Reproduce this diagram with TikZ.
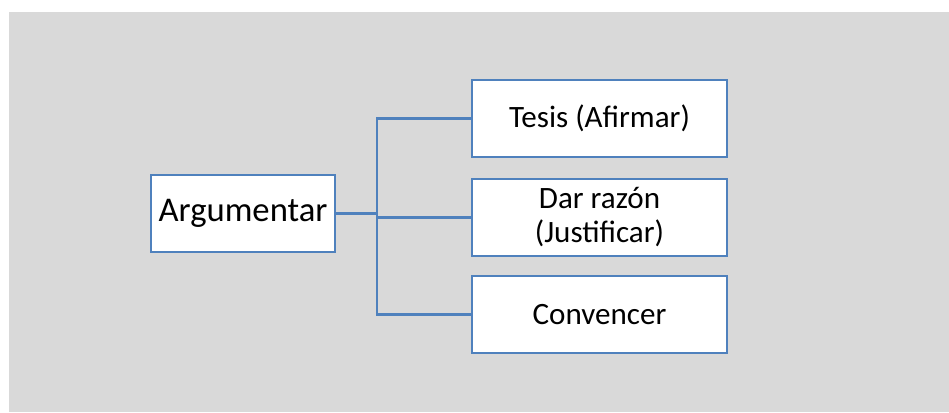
\documentclass[tikz,border=0pt]{standalone}
\usepackage{fontspec}
\setmainfont{Carlito}
\definecolor{panelgrey}{RGB}{217, 217, 217}
\definecolor{boxblue}{RGB}{79, 129, 189}

\begin{document}
\begin{tikzpicture}
  [
    x=0.75pt, y=-0.75pt,
    box/.style={draw=boxblue, line width=1.6pt, fill=white, inner sep=0pt,
                minimum height=57.75pt, align=center,
                font=\fontsize{23.3}{25.5}\selectfont},
    root/.style={box, minimum width=138pt, font=\fontsize{26}{28}\selectfont},
    leaf/.style={box, minimum width=191.25pt},
    link/.style={draw=boxblue, line width=1.6pt}
  ]
  \useasboundingbox (0, 0) rectangle (949, 412);
  \fill[panelgrey] (9, 12) rectangle (949, 412);

  \node[root] (arg) at (243.0, 213.5) {Argumentar};
  \node[leaf] (tesis) at (599.5, 118.5) {Tesis (Afirmar)};
  \node[leaf] (dar) at (599.5, 217.5) {Dar razón\\(Justificar)};
  \node[leaf] (conv) at (599.5, 314.5) {Convencer};
  \coordinate (split) at (377.0, 213.5);

  \draw[link] (arg.east) -- (split);
  \draw[link] (tesis.west) -- (tesis.west -| split) -- (conv.west -| split) -- (conv.west);
  \draw[link] (split |- dar.west) -- (dar.west);
\end{tikzpicture}
\end{document}
